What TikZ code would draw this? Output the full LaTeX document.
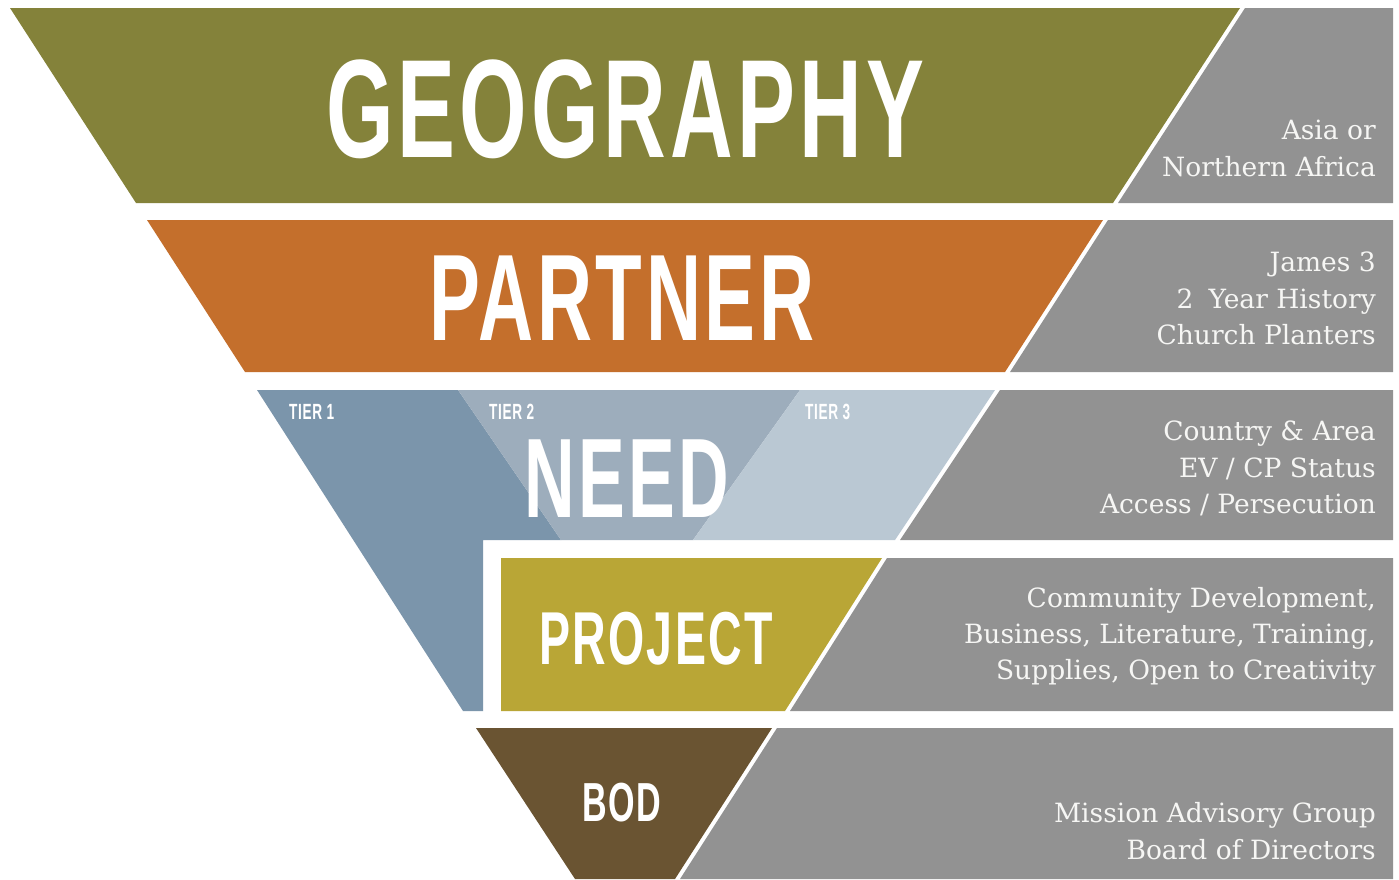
\documentclass[tikz,border=0pt]{standalone}
\usepackage{fontspec}
\newfontfamily\titlefont{Liberation Sans}[FakeStretch=0.62,LetterSpace=3]
\newfontfamily\descfont{DejaVu Serif}
\definecolor{geoC}{HTML}{84823A}
\definecolor{partC}{HTML}{C46F2C}
\definecolor{tierA}{HTML}{7B95AB}
\definecolor{tierB}{HTML}{9DADBC}
\definecolor{tierC}{HTML}{BAC8D3}
\definecolor{projC}{HTML}{B9A636}
\definecolor{bodC}{HTML}{6A5432}
\definecolor{grayC}{HTML}{929292}
\definecolor{descC}{HTML}{F6F6F4}
\begin{document}
\begin{tikzpicture}[x=1pt,y=-1pt,
  title/.style={text=white, inner sep=0pt, anchor=base},
  tierlbl/.style={text=white, inner sep=0pt, anchor=base west, font=\titlefont\bfseries\fontsize{22}{22}\selectfont},
  desc/.style={text=descC, inner sep=0pt, anchor=base east, font=\descfont\fontsize{26.5}{30}\selectfont}]
\useasboundingbox (0,0) rectangle (1399,879);
\fill[white] (0,0) rectangle (1399,879);
% row 1
\fill[geoC] (10,8) -- (1240,8) -- (1113,203) -- (136,203) -- cycle;
\fill[grayC] (1245,8) -- (1393,8) -- (1393,203) -- (1118,203) -- cycle;
% row 2
\fill[partC] (147,220) -- (1103,220) -- (1005,372) -- (245,372) -- cycle;
\fill[grayC] (1108,220) -- (1393,220) -- (1393,372) -- (1010,372) -- cycle;
% row 3
\fill[tierA] (257,390) -- (458,390) -- (561,540) -- (483,540) -- (483,711) -- (463,711) -- cycle;
\fill[tierB] (458,390) -- (800,390) -- (693,540) -- (561,540) -- cycle;
\fill[tierC] (800,390) -- (995,390) -- (895,540) -- (693,540) -- cycle;
\fill[grayC] (1000,390) -- (1393,390) -- (1393,540) -- (900,540) -- cycle;
% row 4
\fill[projC] (501,558) -- (882,558) -- (785,711) -- (501,711) -- cycle;
\fill[grayC] (887,558) -- (1393,558) -- (1393,711) -- (790,711) -- cycle;
% row 5
\fill[bodC] (476,728) -- (772,728) -- (675,879) -- (575,879) -- cycle;
\fill[grayC] (777,728) -- (1393,728) -- (1393,879) -- (680,879) -- cycle;
% titles
\node[title, font=\titlefont\bfseries\fontsize{140}{140}\selectfont] (geo) at (625,157) {GEOGRAPHY};
\node[title, font=\titlefont\bfseries\fontsize{123}{123}\selectfont] (part) at (622,340) {PARTNER};
\node[title, font=\titlefont\bfseries\fontsize{113}{113}\selectfont] (need) at (627,517) {NEED};
\node[title, font=\titlefont\bfseries\fontsize{75}{75}\selectfont] (proj) at (656,664) {PROJECT};
\node[title, font=\titlefont\bfseries\fontsize{55}{55}\selectfont] (bod) at (622,821) {BOD};
\node[tierlbl] (t1) at (289,419) {TIER 1};
\node[tierlbl] (t2) at (489,419) {TIER 2};
\node[tierlbl] (t3) at (805,419) {TIER 3};
% descriptions
\node[desc] (d1a) at (1376,139) {Asia or};
\node[desc] (d1b) at (1376,176) {Northern Africa};
\node[desc] (d2a) at (1376,271) {James 3};
\node[desc] (d2b) at (1376,308) {2\hspace{0.25em} Year History};
\node[desc] (d2c) at (1376,344) {Church Planters};
\node[desc] (d3a) at (1376,440) {Country \& Area};
\node[desc] (d3b) at (1376,477) {EV / CP Status};
\node[desc] (d3c) at (1376,513) {Access / Persecution};
\node[desc] (d4a) at (1376,607) {Community Development,};
\node[desc] (d4b) at (1376,643) {Business, Literature, Training,};
\node[desc] (d4c) at (1376,679) {Supplies, Open to Creativity};
\node[desc] (d5a) at (1376,822) {Mission Advisory Group};
\node[desc] (d5b) at (1376,859) {Board of Directors};
\end{tikzpicture}
\end{document}
